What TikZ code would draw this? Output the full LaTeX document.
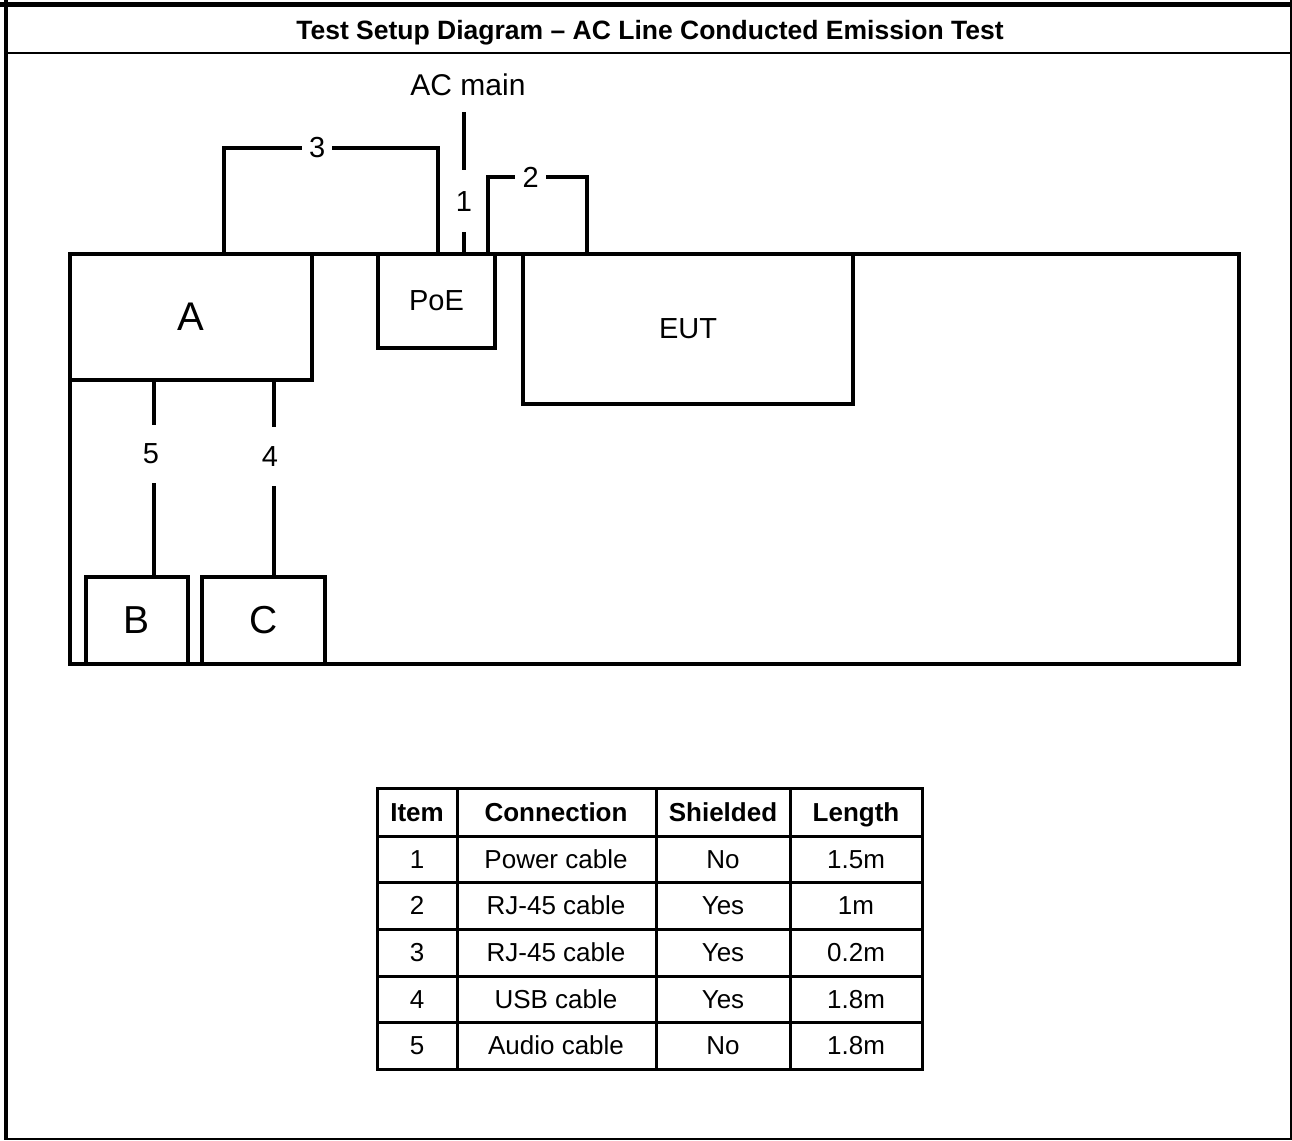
\documentclass[tikz,border=0pt]{standalone}
\usepackage{fontspec}
\setmainfont{Liberation Sans}
\tikzset{
  fnt/.style={font=\fontsize{#1}{#1}\selectfont},
  unit/.style={draw, line width=4.5pt, inner sep=0pt, outer sep=0pt},
  cable/.style={line width=4.5pt},
  clabel/.style={fill=white, inner sep=0pt, fnt=29},
  cell/.style={inner sep=0pt, text height=18.7pt, text depth=0pt, font=\fontsize{26}{30}\selectfont},
  hcell/.style={cell, font=\fontsize{26}{30}\selectfont\bfseries},
  grid/.style={line width=3pt, line cap=rect},
}
\begin{document}
\begin{tikzpicture}[x=1pt,y=-1pt]
\useasboundingbox (0,0) rectangle (1292,1140);
% outer frame
\draw[line width=2pt] (6,53) -- (1291,53);
\draw[line width=4.7pt] (0,4.3) -- (1292,4.3);
\draw[line width=4.3pt] (6.2,0) -- (6.2,1140);
\draw[line width=2pt] (1291,0) -- (1291,1140);
\draw[line width=2pt] (6,1139) -- (1292,1139);
\node[inner sep=0pt, text height=19pt, text depth=0pt, font={\fontsize{26.5}{30}\selectfont\bfseries}] (title) at (650,30) {Test Setup Diagram – AC Line Conducted Emission Test};

% table (ground plane) and units
\node[unit, minimum width=1169, minimum height=410] (gnd) at (654.5,459) {};
\node[unit, minimum width=242, minimum height=126, fnt=40] (A) at (191,317) {A};
\node[unit, minimum width=102, minimum height=87, fnt=39] (B) at (137,620.5) {B};
\node[unit, minimum width=123, minimum height=87, fnt=39] (C) at (263.5,620.5) {C};
\node[unit, minimum width=117, minimum height=94, fnt=29] (PoE) at (436.5,301) {PoE};
\node[unit, minimum width=330, minimum height=150, fnt=29] (EUT) at (688,329) {EUT};

% cables
\node[fnt=30] (ac) at (468,85) {AC main};
\coordinate (acend) at (464,112);
\draw[cable] (acend) -- node[clabel, pos=0.63, minimum height=62] (l1) {1} (PoE.north -| acend);

\coordinate (c2a) at (488,177);
\coordinate (c2b) at (587,177);
\draw[cable] (PoE.north -| c2a) -- (c2a) -- node[clabel, pos=0.43, minimum width=31] (l2) {2} (c2b) -- (EUT.north -| c2b);

\coordinate (c3a) at (224,148);
\coordinate (c3b) at (438,148);
\draw[cable] (A.north -| c3a) -- (c3a) -- node[clabel, pos=0.435, minimum width=30] (l3) {3} (c3b) -- (PoE.north -| c3b);

\coordinate (x4) at (274,0);
\draw[cable] (A.south -| x4) -- node[clabel, pos=0.388, minimum height=59, xshift=-4] (l4) {4} (C.north -| x4);

\coordinate (x5) at (154,0);
\draw[cable] (A.south -| x5) -- node[clabel, pos=0.376, minimum height=58, xshift=-3] (l5) {5} (B.north -| x5);

% cable list
\foreach \x in {377,457,656,790,922} \draw[grid] (\x,788) -- (\x,1069);
\foreach \y in {788,836,882,929,976,1022,1069} \draw[grid] (377,\y) -- (922,\y);
\node[hcell] (h1) at (417,812) {Item};
\node[hcell] (h2) at (556,812) {Connection};
\node[hcell] (h3) at (723,812) {Shielded};
\node[hcell] (h4) at (856,812) {Length};
\foreach \i/\c/\s/\l/\y in {1/Power cable/No/1.5m/859, 2/RJ-45 cable/Yes/1m/905.5, 3/RJ-45 cable/Yes/0.2m/952.5, 4/USB cable/Yes/1.8m/999, 5/Audio cable/No/1.8m/1045.5}{
  \node[cell] (r\i a) at (417,\y) {\i};
  \node[cell] (r\i b) at (556,\y) {\c};
  \node[cell] (r\i c) at (723,\y) {\s};
  \node[cell] (r\i d) at (856,\y) {\l};
}
\end{tikzpicture}
\end{document}
